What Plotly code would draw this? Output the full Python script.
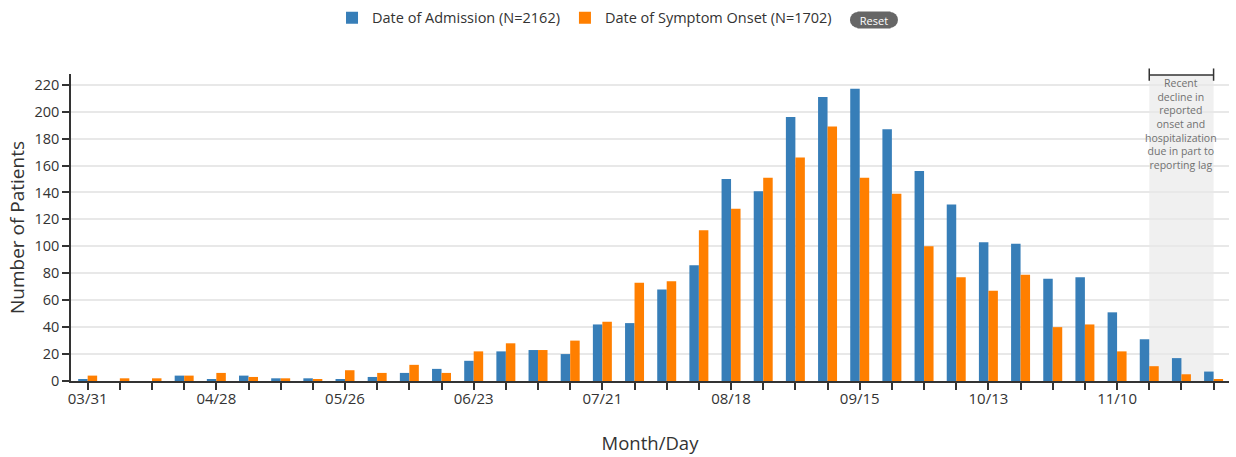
import plotly.graph_objects as go

# ---- data ----
week_dates = [
    "2020-03-31", "2020-04-07", "2020-04-14", "2020-04-21", "2020-04-28", "2020-05-05",
    "2020-05-12", "2020-05-19", "2020-05-26", "2020-06-02", "2020-06-09", "2020-06-16",
    "2020-06-23", "2020-06-30", "2020-07-07", "2020-07-14", "2020-07-21", "2020-07-28",
    "2020-08-04", "2020-08-11", "2020-08-18", "2020-08-25", "2020-09-01", "2020-09-08",
    "2020-09-15", "2020-09-22", "2020-09-29", "2020-10-06", "2020-10-13", "2020-10-20",
    "2020-10-27", "2020-11-03", "2020-11-10", "2020-11-17", "2020-11-24", "2020-12-01",
]
admission = [1, 0, 0, 4, 1, 4, 2, 2, 1, 3, 6, 9, 15, 22, 23, 20, 42, 43, 68, 86,
             150, 141, 196, 211, 217, 187, 156, 131, 103, 102, 76, 77, 51, 31, 17, 7]
onset = [4, 2, 2, 4, 6, 3, 2, 1, 8, 6, 12, 6, 22, 28, 23, 30, 44, 73, 74, 112,
         128, 151, 166, 189, 151, 139, 100, 77, 67, 79, 40, 42, 22, 11, 5, 1]
label_dates = ["2020-03-31", "2020-04-28", "2020-05-26", "2020-06-23", "2020-07-21",
               "2020-08-18", "2020-09-15", "2020-10-13", "2020-11-10"]
label_text = ["03/31", "04/28", "05/26", "06/23", "07/21", "08/18", "09/15", "10/13", "11/10"]
y_ticks = [0, 20, 40, 60, 80, 100, 120, 140, 160, 180, 200, 220]
lag_start, lag_mid, lag_end = "2020-11-17", "2020-11-24", "2020-12-01"

BLUE = "#377eb8"
ORANGE = "#ff7f00"
TXT = "#333333"
FONT = "Open Sans"

fig = go.Figure()
fig.add_trace(go.Bar(x=week_dates, y=admission, name="Date of Admission (N=2162)",
                     marker=dict(color=BLUE, line=dict(width=0))))
fig.add_trace(go.Bar(x=week_dates, y=onset, name="Date of Symptom Onset (N=1702)",
                     marker=dict(color=ORANGE, line=dict(width=0))))

# shaded reporting-lag region and bracket
fig.add_shape(type="rect", xref="x", yref="paper", x0=lag_start, x1=lag_end, y0=0, y1=0.997,
              fillcolor="#f0f0f0", line=dict(width=0), layer="below")
fig.add_shape(type="line", xref="x", yref="paper", x0=lag_start, x1=lag_end, y0=0.997, y1=0.997,
              line=dict(color="#333333", width=1.5))
for xd in (lag_start, lag_end):
    fig.add_shape(type="line", xref="x", yref="paper", x0=xd, x1=xd, y0=0.978, y1=1.018,
                  line=dict(color="#333333", width=1.5))
fig.add_annotation(x=lag_mid, xref="x", y=1.0, yref="paper", yanchor="top", showarrow=False,
                   text="Recent<br>decline in<br>reported<br>onset and<br>hospitalization<br>due in part to<br>reporting lag",
                   font=dict(family=FONT, size=10.5, color="#707070"), align="center")

# Reset pill: rounded ends as circles, body as annotation background
px, py = 0.6934, 1.176
for cx in (-16, 16):
    fig.add_shape(type="circle", xref="paper", yref="paper", xsizemode="pixel", ysizemode="pixel",
                  xanchor=px, yanchor=py, x0=cx - 8, x1=cx + 8, y0=-8, y1=8,
                  fillcolor="#666666", line=dict(width=0), layer="below")
fig.add_annotation(x=px, y=py, xref="paper", yref="paper", showarrow=False, text="Reset",
                   xanchor="center", yanchor="middle", width=32, height=16, borderpad=0,
                   bgcolor="#666666", font=dict(family=FONT, size=11, color="#ffffff"))

fig.update_layout(
    width=1236, height=457, autosize=False,
    margin=dict(l=71, r=7, t=74, b=76, pad=0, autoexpand=False),
    paper_bgcolor="white", plot_bgcolor="white",
    barmode="group", bargap=0.41, bargroupgap=0,
    font=dict(family=FONT, size=13, color=TXT),
    showlegend=True,
    legend=dict(orientation="h", x=0.2254, xanchor="left", y=1.183, yanchor="middle",
                bgcolor="rgba(0,0,0,0)",
                font=dict(family=FONT, size=14.5, color=TXT), traceorder="normal",
                itemclick=False, itemdoubleclick=False),
    xaxis=dict(
        type="date", range=["2020-03-27 09:00", "2020-12-04 08:30"],
        tickmode="array", tickvals=label_dates, ticktext=label_text,
        ticks="outside", ticklen=7, tickwidth=1.5, tickcolor="#333333",
        minor=dict(tickmode="array", tickvals=week_dates, ticks="outside", ticklen=7,
                   tickwidth=1.5, tickcolor="#333333", showgrid=False),
        showline=True, linecolor="#333333", linewidth=1.5, showgrid=False, zeroline=False,
        tickfont=dict(family=FONT, size=15, color=TXT), ticklabelstandoff=-4,
        title=dict(text="Month/Day", font=dict(family=FONT, size=18.5, color=TXT), standoff=30),
    ),
    yaxis=dict(
        range=[0, 228], tickmode="array", tickvals=y_ticks,
        ticks="outside", ticklen=7, tickwidth=1.5, tickcolor="#333333",
        showline=True, linecolor="#333333", linewidth=1.5,
        showgrid=True, gridcolor="#e8e8e8", gridwidth=1.5, zeroline=False,
        tickfont=dict(family=FONT, size=14.5, color=TXT),
        title=dict(text="Number of Patients", font=dict(family=FONT, size=19, color=TXT), standoff=5),
    ),
)

fig.write_html("out.html", config={"displayModeBar": False},
               post_script="document.body.style.margin='0';document.body.style.overflow='hidden';")
